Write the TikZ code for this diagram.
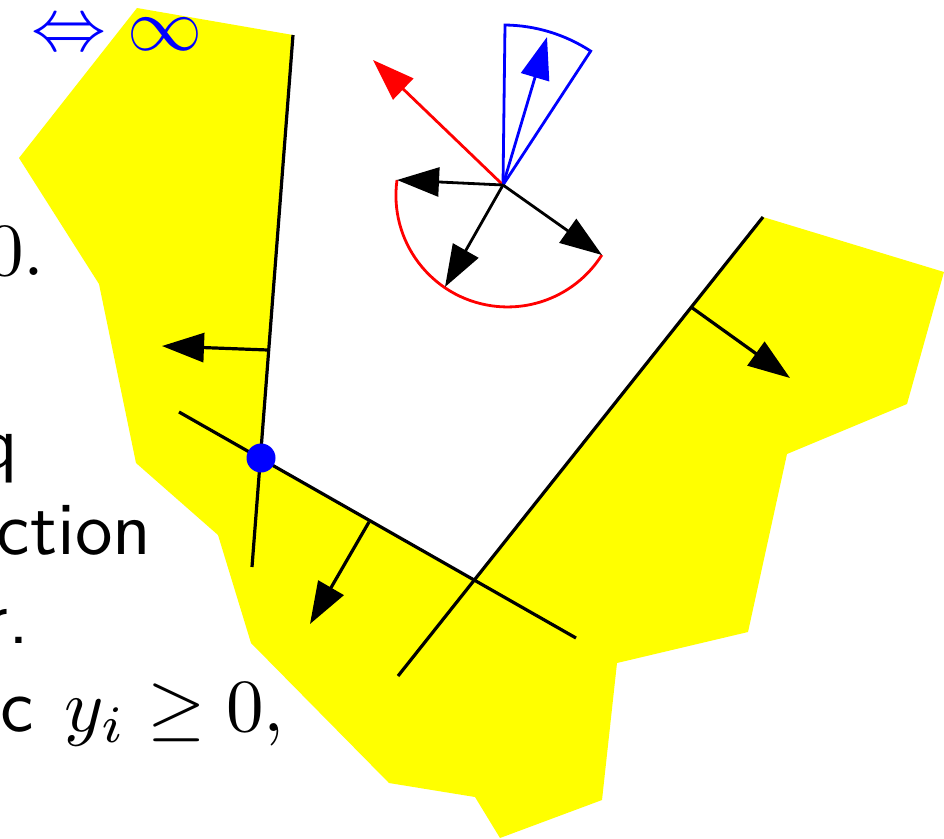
\documentclass[tikz,border=0pt]{standalone}
\usetikzlibrary{arrows.meta}
\definecolor{yel}{RGB}{255,255,0}
\tikzset{
  bighead/.style={-{Triangle[length=42pt,width=29pt]}},
  wall/.style={line width=3.2pt, black},
  normalarrow/.style={line width=3.2pt, black, bighead},
  cmp/.style={line width=2.8pt, bighead},
  txt/.style={inner sep=0pt, scale=7.5},
}
\begin{document}
\begin{tikzpicture}[x=1pt,y=-1pt]
\useasboundingbox (0,0) rectangle (944,838);
\clip (0,0) rectangle (944,838);

% yellow region
\fill[yel] (137,8) -- (293,35) -- (261,458) -- (473,581) -- (763,217)
  -- (944,272) -- (907,404) -- (787,454) -- (748,632) -- (617,663)
  -- (602,800) -- (500,838) -- (475,797) -- (389,783) -- (251,643)
  -- (218,535) -- (136,463) -- (99,284) -- (19,158) -- cycle;

% lines
\coordinate (l1a) at (293,35);
\coordinate (l1b) at (252,567);
\coordinate (l2a) at (179,412);
\coordinate (l2b) at (576,638);
\coordinate (l3a) at (763,217);
\coordinate (l3b) at (398,676);
\draw[wall] (l1a) -- (l1b);
\draw[wall] (l2a) -- (l2b);
\draw[wall] (l3a) -- (l3b);

% normals
\coordinate (n1s) at (268,350);
\coordinate (n1e) at (162,346);
\coordinate (n2s) at (369,522);
\coordinate (n2e) at (310,624);
\coordinate (n3s) at (691,307);
\coordinate (n3e) at (790,378);
\draw[normalarrow] (n1s) -- (n1e);
\draw[normalarrow] (n2s) -- (n2e);
\draw[normalarrow] (n3s) -- (n3e);

% vertex point
\node[circle, fill=blue, inner sep=0pt, minimum size=29pt] (pt) at (261,458) {};

% compass
\coordinate (c) at (503,185);
\coordinate (fa) at (505,25);
\draw[blue, line width=2.8pt, line join=miter] (c) -- (fa) arc[start angle=-89.3, end angle=-56.8, radius=160] -- cycle;
\coordinate (ra) at (397,180);
\draw[red, line width=2.8pt] (ra) arc[start angle=187.9, end angle=32.3, radius=111.6];
\coordinate (redtip) at (373,60);
\coordinate (bluetip) at (547,37);
\coordinate (k1) at (397,180);
\coordinate (k2) at (445,287);
\coordinate (k3) at (602,255);
\draw[cmp, red] (c) -- (redtip);
\draw[cmp, blue] (c) -- (bluetip);
\draw[cmp, black] (c) -- (k1);
\draw[cmp, black] (c) -- (k2);
\draw[cmp, black] (c) -- (k3);

% text fragments
\node[txt, anchor=base west, text=blue] (eq) at (30,50) {$\Leftrightarrow \infty$};
\node[txt, anchor=base east] (t1) at (46,275) {$0.$};
\node[txt, anchor=base east] (t2) at (20,468) {\sffamily q};
\node[txt, anchor=base east] (t3) at (153,554) {\sffamily ction};
\node[txt, anchor=base east] (t4) at (31,643) {\sffamily r.};
\node[txt, anchor=base east] (t5a) at (35,731) {\sffamily ec};
\node[txt, anchor=base east] (t5b) at (286,731) {$y_i \geq 0,$};
\end{tikzpicture}
\end{document}
